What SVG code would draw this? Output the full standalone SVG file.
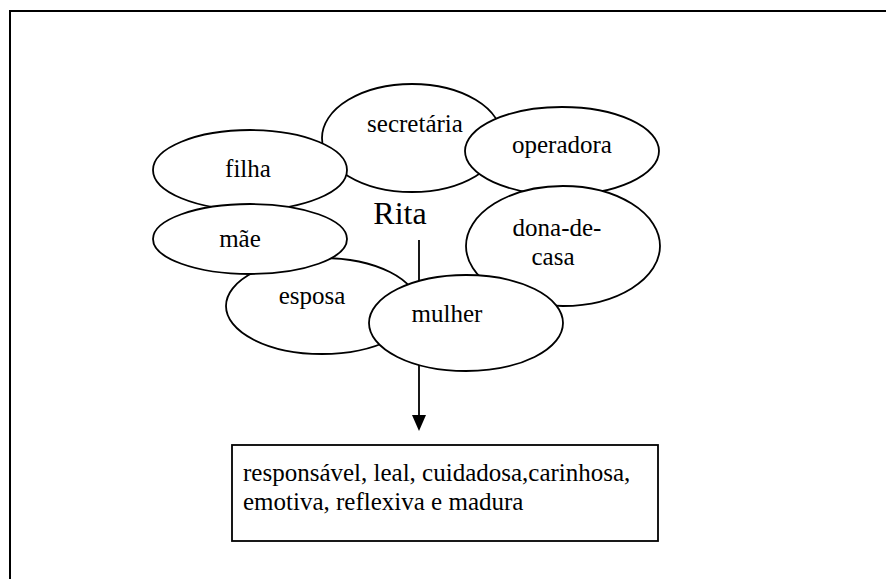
<svg xmlns="http://www.w3.org/2000/svg" width="886" height="579" viewBox="0 0 886 579">
<defs>
<style>
.n ellipse{fill:#fff;stroke:#000;stroke-width:1.8}
.c{text-anchor:middle}
.box{fill:#fff;stroke:#000;stroke-width:1.8}
.frame{fill:none;stroke:#000;stroke-width:2}
.edge{stroke:#000;stroke-width:1.8;fill:none}
</style>
</defs>
<rect width="886" height="579" fill="#fff"/>
<path class="frame" d="M10,600 L10,11 L900,11"/>
<g id="connectors">
<line class="edge" x1="419" y1="240" x2="419" y2="415"/>
<path d="M412,415 L426,415 L419,431 Z" fill="#000"/>
</g>
<g font-family="'Liberation Serif', 'Times New Roman', 'DejaVu Serif', serif" font-size="25" fill="#000">
<g id="secretaria" class="n"><ellipse cx="412" cy="138" rx="90" ry="54"/><text class="c" x="415" y="132">secretária</text></g>
<g id="operadora" class="n"><ellipse cx="562" cy="151" rx="97" ry="44"/><text class="c" x="562" y="153">operadora</text></g>
<g id="dona-de-casa" class="n"><ellipse cx="563" cy="246" rx="97" ry="60"/><text class="c" x="557" y="236">dona-de-</text><text class="c" x="553" y="265">casa</text></g>
<g id="filha" class="n"><ellipse cx="250" cy="170" rx="97" ry="40"/><text class="c" x="248" y="177">filha</text></g>
<g id="esposa" class="n"><ellipse cx="322" cy="306" rx="96" ry="48"/><text class="c" x="312" y="304">esposa</text></g>
<g id="mae" class="n"><ellipse cx="250" cy="239" rx="97" ry="35"/><text class="c" x="240" y="247">mãe</text></g>
<g id="mulher" class="n"><ellipse cx="466" cy="323" rx="97" ry="48"/><text class="c" x="447" y="322">mulher</text></g>
<g id="rita"><text class="c" x="400" y="224" font-size="32">Rita</text></g>
<g id="qualidades">
<rect class="box" x="232" y="445" width="426" height="96"/>
<text x="243" y="481">responsável, leal, cuidadosa,carinhosa,</text>
<text x="243" y="510">emotiva, reflexiva e madura</text>
</g>
</g>
</svg>
